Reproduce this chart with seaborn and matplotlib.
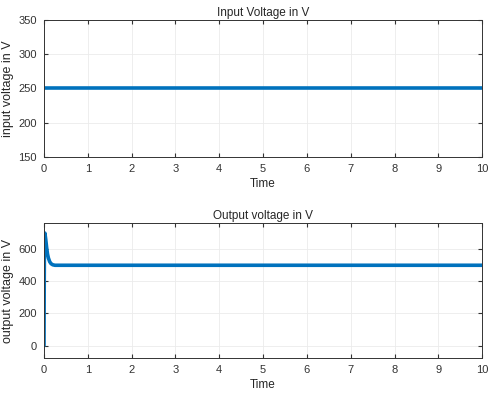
import numpy as np
import pandas as pd
import matplotlib
matplotlib.use('Agg')
import matplotlib.pyplot as plt
import seaborn as sns

# input voltage: constant
t_in = [0, 10]
v_in = [250, 250]

# output voltage: overshoot then settle
t_out = [0, 0.005, 0.01, 0.02, 0.04, 0.06, 0.08, 0.1, 0.13, 0.16, 0.2, 0.25, 0.3, 1, 10]
v_out = [0, 400, 640, 700, 660, 610, 570, 545, 522, 510, 503, 500, 500, 500, 500]

sns.set_style('white')
plt.rcParams['font.family'] = ['Liberation Sans', 'DejaVu Sans']
plt.rcParams['font.size'] = 8

df_in = pd.DataFrame({'Time': t_in, 'v': v_in})
df_out = pd.DataFrame({'Time': t_out, 'v': v_out})

fig = plt.figure(figsize=(4.89, 4.0), dpi=100)
ax1 = fig.add_axes([0.090, 0.6075, 0.896, 0.3425])
ax2 = fig.add_axes([0.090, 0.105, 0.896, 0.3375])

blue = '#0072BD'
sns.lineplot(data=df_in, x='Time', y='v', ax=ax1, color=blue, linewidth=2.6)
sns.lineplot(data=df_out, x='Time', y='v', ax=ax2, color=blue, linewidth=2.6)

ax1.set_xlim(0, 10)
ax1.set_ylim(150, 350)
ax1.set_yticks([150, 200, 250, 300, 350])
ax1.set_title('Input Voltage in V', fontsize=8.5, pad=3)
ax1.set_ylabel('input voltage in V', fontsize=9, labelpad=3)

ax2.set_xlim(0, 10)
ax2.set_ylim(-77, 763)
ax2.set_yticks([0, 200, 400, 600])
ax2.set_title('Output voltage in V', fontsize=8.5, pad=3)
ax2.set_ylabel('output voltage in V', fontsize=9, labelpad=3)

for ax in (ax1, ax2):
    ax.set_xticks(range(0, 11))
    ax.set_xlabel('Time', fontsize=8.5, labelpad=3)
    ax.grid(True, color='#ebebeb', linewidth=0.6)
    ax.tick_params(direction='in', length=3, top=True, right=True,
                   bottom=True, left=True, colors='#333333', labelsize=8, pad=5)
    for s in ax.spines.values():
        s.set_color('#333333')
        s.set_linewidth(0.7)

fig.savefig('out.png', dpi=100)
